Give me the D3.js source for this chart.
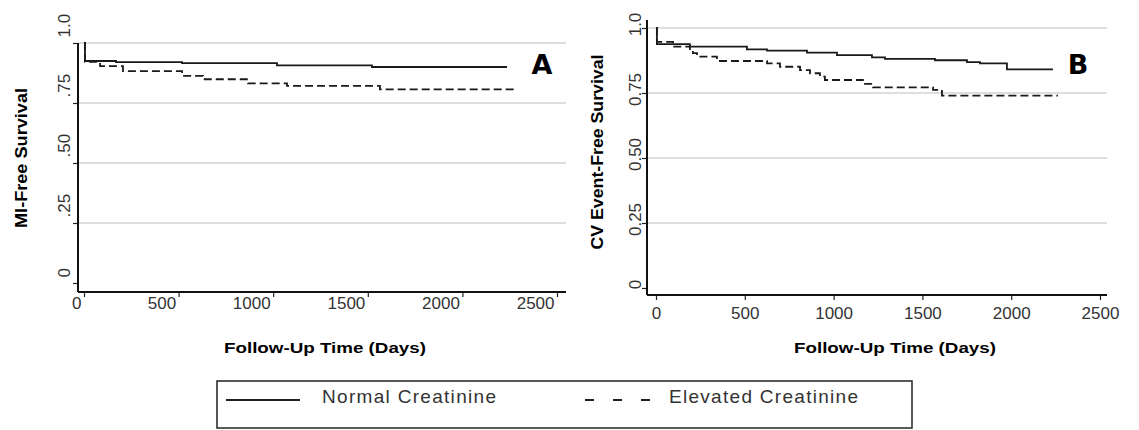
<!DOCTYPE html>
<html>
<head>
<meta charset="utf-8">
<script src="https://cdn.jsdelivr.net/npm/d3@7"></script>
<style>
  body { margin: 0; background: #fff; }
  svg { display: block; font-family: "Liberation Sans", Arial, sans-serif; }
</style>
</head>
<body>
<div id="chart"></div>
<script>
// follow-up day ticks shared by both panels
var dayTicks = [0, 500, 1000, 1500, 2000, 2500];
var survTicks = [0, 0.25, 0.5, 0.75, 1];
var survLabelsA = ["0", ".25", ".50", ".75", "1.0"];
var survLabelsB = ["0", "0.25", "0.50", "0.75", "1.0"];

// [day, survival] steps
var miNormal = [[0, 1.0], [5, 0.925], [169, 0.920], [518, 0.916], [1020, 0.907], [1522, 0.900], [2236, 0.900]];
var miElevated = [[0, 1.0], [5, 0.921], [85, 0.904], [206, 0.883], [518, 0.863], [629, 0.849], [867, 0.832],
                  [1073, 0.821], [1564, 0.807], [2278, 0.807]];
var cvNormal = [[0, 1.0], [5, 0.938], [191, 0.928], [512, 0.918], [625, 0.913], [850, 0.905], [1019, 0.896],
                [1216, 0.887], [1289, 0.881], [1571, 0.876], [1751, 0.869], [1824, 0.864], [1976, 0.841], [2235, 0.841]];
var cvElevated = [[0, 1.0], [5, 0.947], [96, 0.928], [191, 0.915], [208, 0.903], [231, 0.890], [343, 0.873],
                  [625, 0.864], [698, 0.851], [811, 0.838], [867, 0.826], [923, 0.813], [951, 0.800],
                  [1165, 0.785], [1222, 0.772], [1560, 0.762], [1610, 0.740], [2263, 0.740]];

var seriesNames = ["Normal Creatinine", "Elevated Creatinine"];

var width = 1139, height = 430;

var svg = d3.select("#chart")
  .append("svg")
    .attr("width", width)
    .attr("height", height);

var panels = [
  {letter: "A", normal: miNormal, elevated: miElevated, labels: survLabelsA, title: "MI-Free Survival", titleLen: 140,
   xr: [84, 557], yr: [283, 43], axisX: 78, axisY: 292, right: 566, top: 43,
   titleX: 21, titleY: 158, letterX: 542, xlabY: 17, xlabEnd: true, ylabX: -14, ylabDY: -6, ylabStart: true,
   xTitleX: 325},
  {letter: "B", normal: cvNormal, elevated: cvElevated, labels: survLabelsB, title: "CV Event-Free Survival", titleLen: 195,
   xr: [656, 1100], yr: [288, 28], axisX: 647, axisY: 295, right: 1107, top: 20,
   titleX: 597, titleY: 152, letterX: 1078, xlabY: 24, xlabEnd: false, ylabX: -12, ylabDY: -4, ylabStart: false,
   xTitleX: 895}
];

panels.forEach(function(p) {
  var x = d3.scaleLinear().domain([0, 2500]).range(p.xr);
  var y = d3.scaleLinear().domain([0, 1]).range(p.yr);
  var g = svg.append("g");

  // gridlines
  g.selectAll(".grid")
    .data(survTicks.filter(function(d) { return d > 0; }))
    .enter()
    .append("line")
      .attr("x1", p.axisX).attr("x2", p.right)
      .attr("y1", function(d) { return y(d); })
      .attr("y2", function(d) { return y(d); })
      .attr("stroke", "#dedede")
      .attr("stroke-width", 2);

  // x axis
  var xAxis = g.append("g")
    .attr("transform", "translate(0," + p.axisY + ")")
    .call(d3.axisBottom(x).tickValues(dayTicks).tickSize(5).tickSizeOuter(0).tickFormat(d3.format("d")));
  xAxis.select(".domain").remove();
  xAxis.selectAll("line").attr("stroke", "#222").attr("stroke-width", 1.2);
  xAxis.selectAll("text")
    .attr("y", p.xlabY)
    .attr("dy", 0)
    .attr("x", p.xlabEnd ? -3 : 0)
    .attr("text-anchor", p.xlabEnd ? "end" : "middle")
    .attr("fill", "#333")
    .style("font-size", "17px")
    .style("font-family", "Liberation Sans, Arial, sans-serif");

  // y axis
  var yAxis = g.append("g")
    .attr("transform", "translate(" + p.axisX + ",0)")
    .call(d3.axisLeft(y).tickValues(survTicks).tickSize(5).tickSizeOuter(0)
      .tickFormat(function(d, i) { return p.labels[i]; }));
  yAxis.select(".domain").remove();
  yAxis.selectAll("line").attr("stroke", "#222").attr("stroke-width", 1.2);
  yAxis.selectAll("text")
    .attr("x", 0)
    .attr("y", 0)
    .attr("dy", "0.35em")
    .attr("transform", "translate(" + p.ylabX + "," + p.ylabDY + ") rotate(-90)")
    .attr("text-anchor", p.ylabStart ? "start" : "middle")
    .attr("fill", "#333")
    .style("font-size", "17px")
    .style("font-family", "Liberation Sans, Arial, sans-serif");

  // axis frame lines
  g.append("line")
    .attr("x1", p.axisX).attr("x2", p.axisX)
    .attr("y1", p.top).attr("y2", p.axisY)
    .attr("stroke", "#111").attr("stroke-width", 2);
  g.append("line")
    .attr("x1", p.axisX).attr("x2", p.right)
    .attr("y1", p.axisY).attr("y2", p.axisY)
    .attr("stroke", "#111").attr("stroke-width", 2);

  var line = d3.line()
    .x(function(d) { return x(d[0]); })
    .y(function(d) { return y(d[1]); })
    .curve(d3.curveStepAfter);

  g.append("path")
    .datum(p.normal)
    .attr("d", line)
    .attr("fill", "none")
    .attr("stroke", "#1a1a1a")
    .attr("stroke-width", 1.8);

  g.append("path")
    .datum(p.elevated)
    .attr("d", line)
    .attr("fill", "none")
    .attr("stroke", "#1a1a1a")
    .attr("stroke-width", 1.8)
    .attr("stroke-dasharray", "8,4");

  // panel letter
  g.append("text")
    .attr("x", p.letterX)
    .attr("y", 74)
    .attr("text-anchor", "middle")
    .style("font-size", "27px")
    .style("font-weight", "bold")
    .style("font-family", "DejaVu Sans, sans-serif")
    .attr("fill", "#000")
    .text(p.letter);

  // y title
  g.append("text")
    .attr("transform", "translate(" + p.titleX + "," + p.titleY + ") rotate(-90)")
    .attr("text-anchor", "middle")
    .attr("dy", "0.35em")
    .attr("textLength", p.titleLen)
    .attr("lengthAdjust", "spacingAndGlyphs")
    .style("font-size", "16px")
    .style("font-weight", "bold")
    .attr("fill", "#000")
    .text(p.title);

  // x title
  g.append("text")
    .attr("x", p.xTitleX)
    .attr("y", 353)
    .attr("text-anchor", "middle")
    .attr("textLength", 202)
    .attr("lengthAdjust", "spacingAndGlyphs")
    .style("font-size", "15px")
    .style("font-weight", "bold")
    .attr("fill", "#000")
    .text("Follow-Up Time (Days)");
});

// legend
var legend = svg.append("g");
legend.append("rect")
  .attr("x", 217).attr("y", 381)
  .attr("width", 695).attr("height", 47)
  .attr("fill", "none")
  .attr("stroke", "#222")
  .attr("stroke-width", 1.5);

var legendItems = [
  {name: seriesNames[0], x1: 226, x2: 300, tx: 322, len: 174, dash: null},
  {name: seriesNames[1], x1: 585, x2: 652, tx: 669, len: 189, dash: "9,19"}
];

legend.selectAll(".key")
  .data(legendItems)
  .enter()
  .append("line")
    .attr("x1", function(d) { return d.x1; })
    .attr("x2", function(d) { return d.x2; })
    .attr("y1", 400).attr("y2", 400)
    .attr("stroke", "#222")
    .attr("stroke-width", 2)
    .attr("stroke-dasharray", function(d) { return d.dash; });

legend.selectAll(".lab")
  .data(legendItems)
  .enter()
  .append("text")
    .attr("x", function(d) { return d.tx; })
    .attr("y", 403)
    .attr("textLength", function(d) { return d.len; })
    .attr("lengthAdjust", "spacing")
    .style("font-size", "19px")
    .attr("fill", "#333")
    .text(function(d) { return d.name; });
</script>
</body>
</html>
